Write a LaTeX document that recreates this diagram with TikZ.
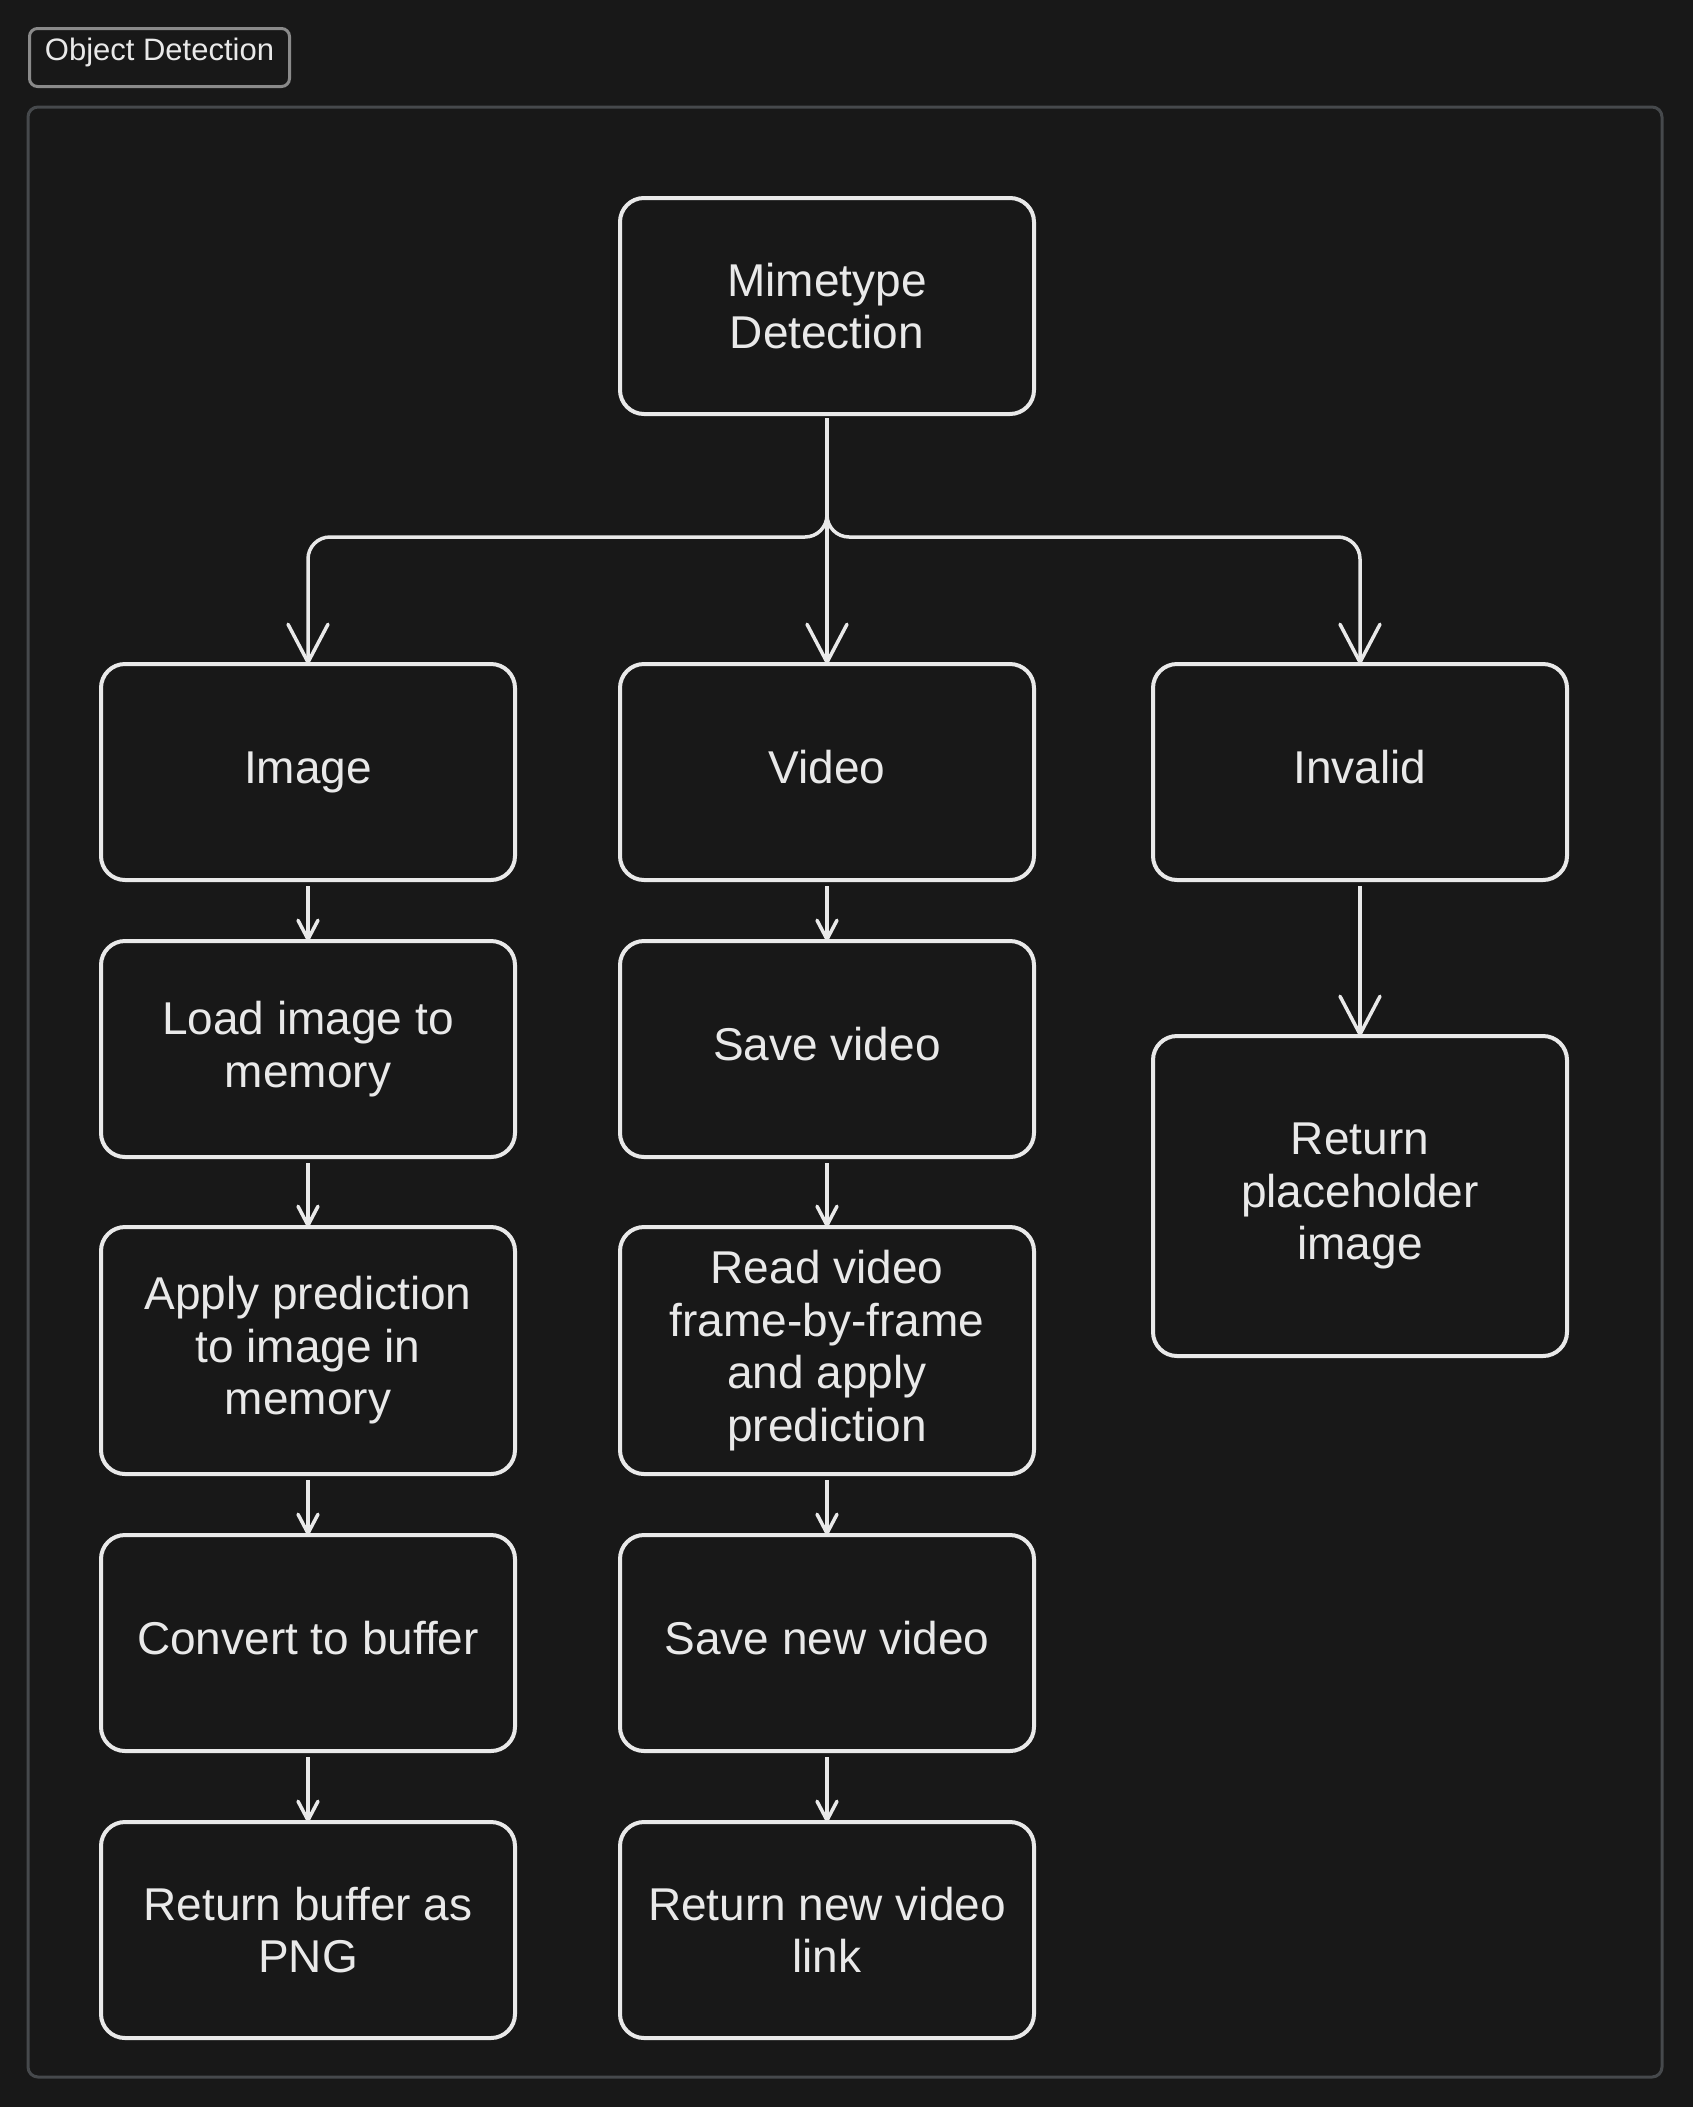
\documentclass[tikz,border=0pt]{standalone}
\usepackage{fontspec}
\setmainfont{Liberation Sans}
\usetikzlibrary{positioning,arrows.meta}

\definecolor{canvas}{HTML}{181818}
\definecolor{ink}{HTML}{E9E9E9}
\definecolor{framegray}{HTML}{46494C}
\definecolor{taggray}{HTML}{8A8A8A}

\begin{document}
\begin{tikzpicture}[
    x=1pt, y=-1pt,
    font=\fontsize{46}{52.5}\selectfont,
    stepbox/.style={
        draw=ink,
        text=ink,
        rounded corners=24pt,
        align=center,
        inner sep=0pt,
        outer sep=0pt,
        line width=4pt,
        minimum width=414pt,
        minimum height=216pt
    },
    oneline/.style={text depth=9.5pt},
    tagbox/.style={
        draw=taggray,
        text=ink,
        rounded corners=8pt,
        line width=3pt,
        minimum width=260pt,
        minimum height=58pt,
        text height=20pt,
        text depth=15pt,
        inner xsep=14pt,
        font=\fontsize{31}{36}\selectfont
    },
    bigarrow/.style={-{Straight Barb[length=38pt,width=40pt,round]}, line width=3.5pt, draw=ink},
    smallarrow/.style={-{Straight Barb[length=19pt,width=20pt,round]}, line width=3.5pt, draw=ink}
]

    % page and frame
    \fill[canvas] (0,0) rectangle (1693,2107);
    \draw[framegray, line width=3pt, rounded corners=10pt] (28,107) rectangle (1662,2077);
    \node[tagbox, anchor=west] (tag) at (28,57.5) {Object Detection\hfill};

    % detection step
    \node[stepbox] (mime) at (827,306) {Mimetype\\Detection};

    % one column per kind of upload
    \node[stepbox, oneline] (image) at (308,772) {Image};
    \node[stepbox, oneline] (video) at (827,772) {Video};
    \node[stepbox, oneline] (invalid) at (1360,772) {Invalid};

    \node[stepbox, below=61pt of image] (loadimg) {Load image to\\memory};
    \node[stepbox, below=70pt of loadimg, minimum height=247pt] (applyimg) {Apply prediction\\to image in\\memory};
    \node[stepbox, oneline, below=61pt of applyimg] (tobuffer) {Convert to buffer};
    \node[stepbox, below=71pt of tobuffer] (retbuffer) {Return buffer as\\PNG};

    \node[stepbox, oneline, below=61pt of video] (savevid) {Save video};
    \node[stepbox, below=70pt of savevid, minimum height=247pt] (readvid) {Read video\\frame-by-frame\\and apply\\prediction};
    \node[stepbox, oneline, below=61pt of readvid] (savenew) {Save new video};
    \node[stepbox, below=71pt of savenew] (retlink) {Return new video\\link};

    \node[stepbox, below=156pt of invalid, minimum height=320pt] (placeholder) {Return\\placeholder\\image};

    % branching
    \draw[bigarrow, rounded corners=22pt] ([yshift=-4pt]mime.south) -- ++(0,119) -| (image.north);
    \draw[bigarrow, rounded corners=22pt] ([yshift=-4pt]mime.south) -- ++(0,119) -| (invalid.north);
    \draw[bigarrow] ([yshift=-4pt]mime.south) -- (video.north);

    % image column
    \draw[smallarrow] ([yshift=-6pt]image.south) -- (loadimg.north);
    \draw[smallarrow] ([yshift=-6pt]loadimg.south) -- (applyimg.north);
    \draw[smallarrow] ([yshift=-6pt]applyimg.south) -- (tobuffer.north);
    \draw[smallarrow] ([yshift=-6pt]tobuffer.south) -- (retbuffer.north);

    % video column
    \draw[smallarrow] ([yshift=-6pt]video.south) -- (savevid.north);
    \draw[smallarrow] ([yshift=-6pt]savevid.south) -- (readvid.north);
    \draw[smallarrow] ([yshift=-6pt]readvid.south) -- (savenew.north);
    \draw[smallarrow] ([yshift=-6pt]savenew.south) -- (retlink.north);

    % invalid column
    \draw[bigarrow] ([yshift=-6pt]invalid.south) -- (placeholder.north);

\end{tikzpicture}
\end{document}
